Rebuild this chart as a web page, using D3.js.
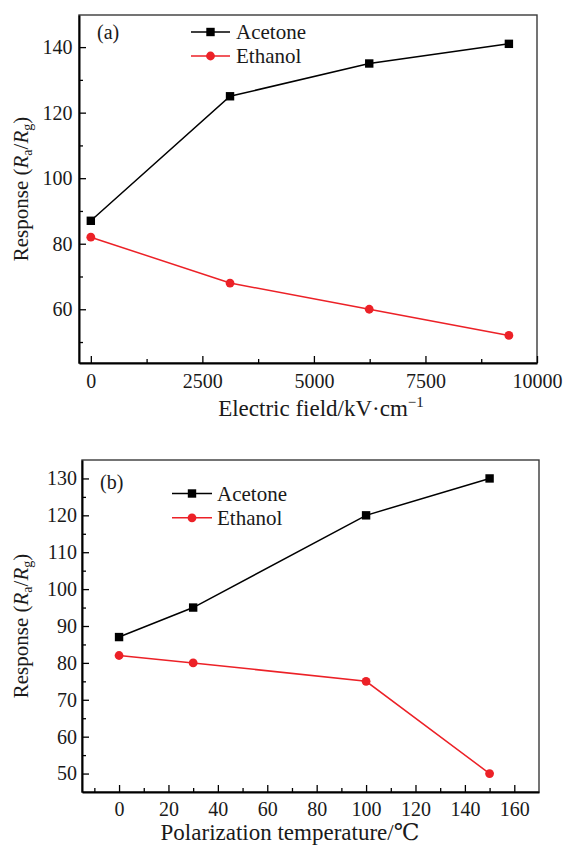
<!DOCTYPE html>
<html>
<head>
<meta charset="utf-8">
<script src="https://cdn.jsdelivr.net/npm/d3@7"></script>
<style>
body { margin: 0; background: #fff; }
svg text { fill: #1a1a1a; }
</style>
</head>
<body>
<div id="graph"></div>
<script>
var w = 566, h = 846

// panel (a): response vs electric field
var fieldA = [0, 3120, 6240, 9370]
var acetoneA = [87, 125, 135, 141]
var ethanolA = [82, 68, 60, 52]
var xTicksA = [0, 2500, 5000, 7500, 10000]
var xMinorA = [1250, 3750, 6250, 8750]
var yTicksA = [60, 80, 100, 120, 140]
var yMinorA = [50, 70, 90, 110, 130]

// panel (b): response vs polarization temperature
var tempB = [0, 30, 100, 150]
var acetoneB = [87, 95, 120, 130]
var ethanolB = [82, 80, 75, 50]
var xTicksB = [0, 20, 40, 60, 80, 100, 120, 140, 160]
var xMinorB = [-10, 10, 30, 50, 70, 90, 110, 130, 150]
var yTicksB = [50, 60, 70, 80, 90, 100, 110, 120, 130]
var yMinorB = [55, 65, 75, 85, 95, 105, 115, 125]

var seriesNames = ['Acetone', 'Ethanol']
var seriesColours = ['#000000', '#ec2127']

var serif = "'Liberation Serif', 'Times New Roman', Times, 'DejaVu Serif', serif"

var svg = d3.select('#graph')
  .append('svg')
  .attr('width', w)
  .attr('height', h)
  .style('font-family', serif)

drawPanel({
  label: '(a)', xs: fieldA, ys: [acetoneA, ethanolA],
  xTicks: xTicksA, xMinor: xMinorA, yTicks: yTicksA, yMinor: yMinorA,
  xDomain: [-265, 10000], yDomain: [43.6, 149.8],
  left: 79, right: 537, top: 15, bottom: 363,
  xPad: 11, yPad: 6.5,
  legend: {x1: 191, x2: 230, tx: 236, y: 32, dy: 24},
  labelPos: [97, 39],
  xTitle: 'a', xTitlePos: [321, 416]
})

drawPanel({
  label: '(b)', xs: tempB, ys: [acetoneB, ethanolB],
  xTicks: xTicksB, xMinor: xMinorB, yTicks: yTicksB, yMinor: yMinorB,
  xDomain: [-15, 170], yDomain: [45, 135],
  left: 82, right: 539, top: 460, bottom: 792,
  xPad: 10, yPad: 5,
  legend: {x1: 172, x2: 212, tx: 217, y: 493.5, dy: 24.3},
  labelPos: [100, 489],
  xTitle: 'b', xTitlePos: [290, 840]
})

svg.selectAll('text').style('font-family', serif)

function drawPanel(p) {
  var x = d3.scaleLinear().domain(p.xDomain).range([p.left, p.right])
  var y = d3.scaleLinear().domain(p.yDomain).range([p.bottom, p.top])
  var g = svg.append('g')

  g.append('rect')
    .attr('x', p.left).attr('y', p.top)
    .attr('width', p.right - p.left).attr('height', p.bottom - p.top)
    .attr('fill', 'none').attr('stroke', '#3a3a3a').attr('stroke-width', 1.4)

  // minor ticks (inside)
  g.append('g').attr('transform', 'translate(0,' + p.bottom + ')')
    .call(d3.axisBottom(x).tickValues(p.xMinor).tickSize(-4).tickFormat(''))
    .call(a => a.select('.domain').remove())
  g.append('g').attr('transform', 'translate(' + p.left + ',0)')
    .call(d3.axisLeft(y).tickValues(p.yMinor).tickSize(-4).tickFormat(''))
    .call(a => a.select('.domain').remove())

  var xa = g.append('g').attr('transform', 'translate(0,' + p.bottom + ')')
    .call(d3.axisBottom(x).tickValues(p.xTicks).tickFormat(d3.format('d'))
      .tickSizeInner(-7).tickSizeOuter(0).tickPadding(p.xPad))
  var ya = g.append('g').attr('transform', 'translate(' + p.left + ',0)')
    .call(d3.axisLeft(y).tickValues(p.yTicks).tickFormat(d3.format('d'))
      .tickSizeInner(-7).tickSizeOuter(0).tickPadding(p.yPad))
  ;[xa, ya].forEach(function(a) {
    a.attr('font-size', 20)
    a.select('.domain').attr('stroke', '#000').attr('stroke-width', 2)
  })
  g.selectAll('.tick line').attr('stroke', '#000').attr('stroke-width', 1.3)

  var line = d3.line()
    .x(function(d, i) { return x(p.xs[i]) })
    .y(function(d) { return y(d) })

  p.ys.forEach(function(vals, s) {
    g.append('path')
      .attr('d', line(vals))
      .attr('fill', 'none')
      .attr('stroke', seriesColours[s])
      .attr('stroke-width', 1.5)
    var pts = g.append('g').selectAll('.pt')
      .data(vals)
      .enter()
    if (s == 0) {
      pts.append('rect')
        .attr('x', function(d, i) { return x(p.xs[i]) - 4.2 })
        .attr('y', function(d) { return y(d) - 4.2 })
        .attr('width', 8.4).attr('height', 8.4)
        .attr('fill', seriesColours[s])
    } else {
      pts.append('circle')
        .attr('cx', function(d, i) { return x(p.xs[i]) })
        .attr('cy', function(d) { return y(d) })
        .attr('r', 4.4)
        .attr('fill', seriesColours[s])
    }
  })

  // legend
  var L = p.legend
  seriesNames.forEach(function(name, s) {
    var ly = L.y + s * L.dy
    g.append('line')
      .attr('x1', L.x1).attr('x2', L.x2).attr('y1', ly).attr('y2', ly)
      .attr('stroke', seriesColours[s]).attr('stroke-width', 1.5)
    var mx = (L.x1 + L.x2) / 2
    if (s == 0) {
      g.append('rect').attr('x', mx - 4.2).attr('y', ly - 4.2)
        .attr('width', 8.4).attr('height', 8.4).attr('fill', seriesColours[s])
    } else {
      g.append('circle').attr('cx', mx).attr('cy', ly).attr('r', 4.4)
        .attr('fill', seriesColours[s])
    }
    g.append('text')
      .attr('x', L.tx).attr('y', ly + 7)
      .attr('font-size', 21)
      .text(name)
  })

  g.append('text')
    .attr('x', p.labelPos[0]).attr('y', p.labelPos[1])
    .attr('font-size', 20)
    .text(p.label)

  // y title
  var yt = g.append('text')
    .attr('transform', 'translate(28,' + (p.top + p.bottom) / 2 + ') rotate(-90)')
    .attr('text-anchor', 'middle')
    .attr('font-size', 21)
  yt.append('tspan').text('Response (')
  yt.append('tspan').attr('font-style', 'italic').text('R')
  yt.append('tspan').attr('font-size', 14).attr('dy', 4).text('a')
  yt.append('tspan').attr('dy', -4).text('/')
  yt.append('tspan').attr('font-style', 'italic').text('R')
  yt.append('tspan').attr('font-size', 14).attr('dy', 4).text('g')
  yt.append('tspan').attr('dy', -4).text(')')

  // x title
  var xt = g.append('text')
    .attr('x', p.xTitlePos[0]).attr('y', p.xTitlePos[1])
    .attr('text-anchor', 'middle')
    .attr('font-size', 23)
  if (p.xTitle == 'a') {
    xt.append('tspan').text('Electric field/kV·cm')
    xt.append('tspan').attr('font-size', 15).attr('dy', -9).text('−1')
  } else {
    xt.text('Polarization temperature/℃')
  }
}
</script>
</body>
</html>
